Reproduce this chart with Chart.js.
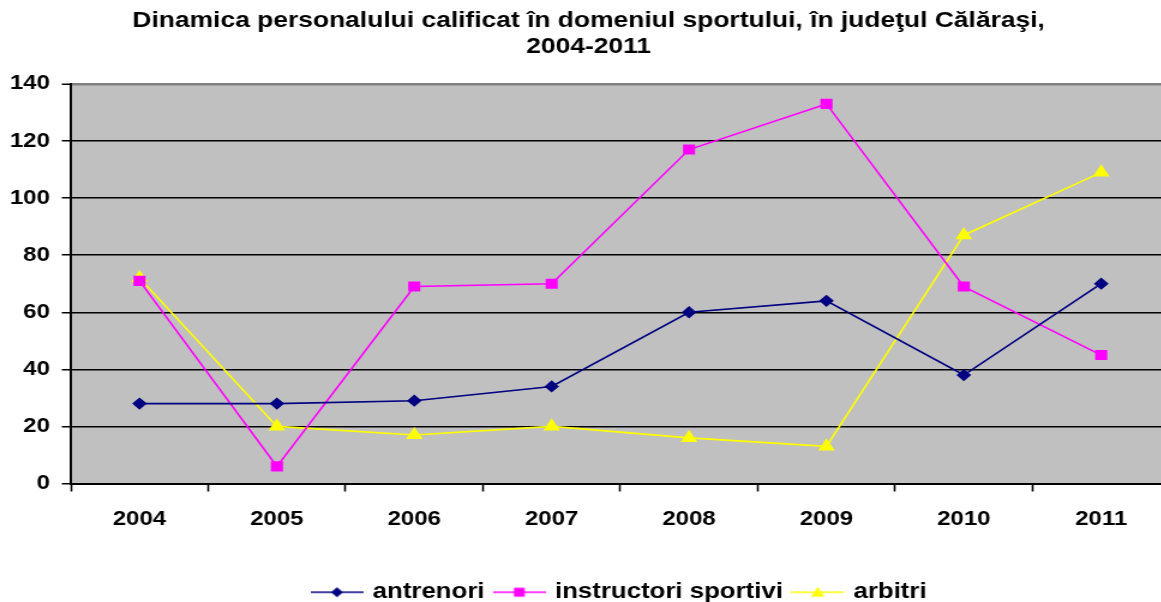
<!DOCTYPE html>
<html>
<head>
<meta charset="utf-8">
<script src="https://cdn.jsdelivr.net/npm/chart.js@4"></script>
<style>
  html, body { margin: 0; padding: 0; background: #fff; overflow: hidden; width: 1161px; height: 602px; }
  #wrap { position: absolute; left: 0; top: 0; transform: scaleX(1.2); transform-origin: 0 0; }
  canvas { display: block; }
</style>
</head>
<body>
<div id="wrap"><canvas id="mainChart" width="983" height="613"></canvas></div>
<script>
// 1. DATA
const years = ["2004", "2005", "2006", "2007", "2008", "2009", "2010", "2011"];
const antrenori = [28, 28, 29, 34, 60, 64, 38, 70];
const instructori = [71, 6, 69, 70, 117, 133, 69, 45];
const arbitri = [72, 20, 17, 20, 16, 13, 87, 109];
const seriesNames = ["antrenori", "instructori sportivi", "arbitri"];
const titleLines = [
  "Dinamica personalului calificat în domeniul sportului, în judeţul Călăraşi,",
  "2004-2011",
];

// 2. HELPERS
const FONT = "'Liberation Sans', Arial, sans-serif";

// small legend icon: line with the marker in the middle
function makeIcon(color, style) {
  const c = document.createElement("canvas");
  c.width = 44;
  c.height = 14;
  const g = c.getContext("2d");
  g.strokeStyle = color;
  g.lineWidth = 1.6;
  g.beginPath();
  g.moveTo(0, 7);
  g.lineTo(44, 7);
  g.stroke();
  g.fillStyle = color;
  g.beginPath();
  if (style === "diamond") {
    g.moveTo(22, 2); g.lineTo(27, 7); g.lineTo(22, 12); g.lineTo(17, 7);
  } else if (style === "square") {
    g.rect(17.5, 2.5, 9, 9);
  } else {
    g.moveTo(22, 1.5); g.lineTo(27.5, 11.5); g.lineTo(16.5, 11.5);
  }
  g.closePath();
  g.fill();
  return c;
}

const plotBackground = {
  id: "plotBackground",
  beforeDraw(chart) {
    const { ctx, chartArea: a } = chart;
    ctx.save();
    ctx.fillStyle = "#C0C0C0";
    ctx.fillRect(a.left, a.top, a.right - a.left, a.bottom - a.top);
    ctx.restore();
  },
};

// 3. CHART
const colors = ["#000080", "#FF00FF", "#FFFF00"];
const icons = [
  makeIcon(colors[0], "diamond"),
  makeIcon(colors[1], "square"),
  makeIcon(colors[2], "triangle"),
];

Chart.defaults.font.family = FONT;
Chart.defaults.color = "#000";

new Chart(document.getElementById("mainChart").getContext("2d"), {
  type: "line",
  data: {
    labels: years,
    datasets: [
      {
        label: seriesNames[0],
        data: antrenori,
        borderColor: colors[0],
        backgroundColor: colors[0],
        borderWidth: 1.6,
        pointStyle: "rectRot",
        pointRadius: 5,
      },
      {
        label: seriesNames[1],
        data: instructori,
        borderColor: colors[1],
        backgroundColor: colors[1],
        borderWidth: 1.6,
        pointStyle: "rect",
        pointRadius: 6,
      },
      {
        label: seriesNames[2],
        data: arbitri,
        borderColor: colors[2],
        backgroundColor: colors[2],
        borderWidth: 1.6,
        pointStyle: "triangle",
        pointRadius: 6.5,
      },
    ],
  },
  options: {
    responsive: false,
    animation: false,
    layout: { padding: { top: 0, left: 0, right: 2, bottom: 0 } },
    scales: {
      x: {
        offset: true,
        afterFit: (scale) => { scale.height = 88; },
        grid: {
          offset: true,
          drawOnChartArea: false,
          drawTicks: true,
          tickLength: 8,
          tickColor: "#000",
          tickWidth: 1.6,
        },
        border: { color: "#000", width: 2 },
        ticks: { padding: 16, font: { size: 20, weight: "bold" }, color: "#000" },
      },
      y: {
        min: 0,
        max: 140,
        afterFit: (scale) => { scale.width = 59; },
        ticks: { stepSize: 20, padding: 10, font: { size: 20, weight: "bold" }, color: "#000" },
        grid: {
          color: (c) => (c.tick && c.tick.value === 140 ? "#808080" : "#000"),
          lineWidth: (c) => (c.tick && c.tick.value === 140 ? 2.5 : 1.5),
          tickColor: "#000",
          tickLength: 7.5,
          tickWidth: 1.5,
        },
        border: { color: "#000", width: 2 },
      },
    },
    plugins: {
      title: {
        display: true,
        text: titleLines,
        color: "#000",
        font: { size: 22, weight: "bold", lineHeight: 1.18 },
        padding: { top: 8, bottom: 24 },
      },
      legend: {
        position: "bottom",
        fullSize: false,
        labels: {
          usePointStyle: true,
          pointStyleWidth: 38,
          padding: 10,
          color: "#000",
          font: { size: 21.5, weight: "bold" },
          generateLabels: (chart) =>
            chart.data.datasets.map((ds, i) => ({
              text: ds.label,
              pointStyle: icons[i],
              fillStyle: colors[i],
              strokeStyle: "transparent",
              lineWidth: 0,
              hidden: false,
              datasetIndex: i,
            })),
        },
      },
      tooltip: { enabled: false },
    },
  },
  plugins: [plotBackground],
});
</script>
</body>
</html>
